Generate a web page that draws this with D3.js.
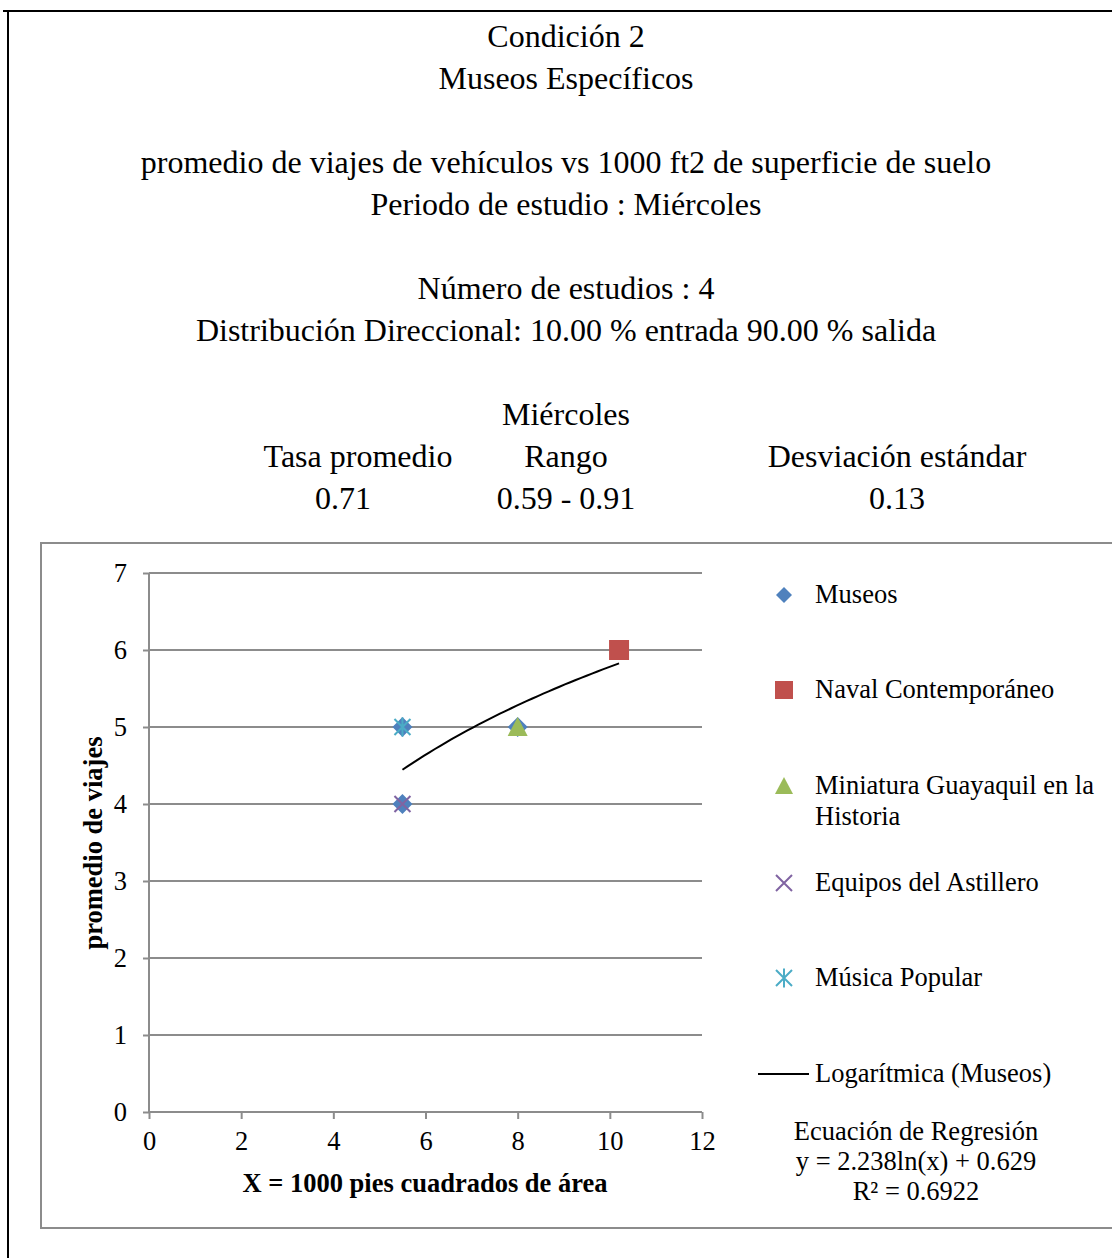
<!DOCTYPE html>
<html><head><meta charset="utf-8">
<script src="https://cdn.jsdelivr.net/npm/d3@7"></script>
<style>body{margin:0;background:#fff}svg{display:block}</style>
</head><body>
<script>
// ---- data ----
const titleLines = ["Condición 2","Museos Específicos","","promedio de viajes de vehículos vs 1000 ft2 de superficie de suelo","Periodo de estudio : Miércoles","","Número de estudios : 4","Distribución Direccional: 10.00 % entrada 90.00 % salida","","Miércoles"];
const statHeaders = ["Tasa promedio","Rango","Desviación estándar"];
const statValues = ["0.71","0.59 - 0.91","0.13"];
const seriesNames = ["Museos","Naval Contemporáneo","Miniatura Guayaquil en la Historia","Equipos del Astillero","Música Popular"];
const museosX = [5.5, 5.5, 8, 10.2];
const museosY = [5, 4, 5, 6];
const navalX = [10.2], navalY = [6];
const miniaturaX = [8], miniaturaY = [5];
const equiposX = [5.5], equiposY = [4];
const musicaX = [5.5], musicaY = [5];
const xTicks = [0,2,4,6,8,10,12];
const yTicks = [0,1,2,3,4,5,6,7];
const trendA = 2.238, trendB = 0.629;
const trendLabel = "Logarítmica (Museos)";
const eqLines = ["Ecuación de Regresión","y = 2.238ln(x) + 0.629","R² = 0.6922"];
const xLabel = "X = 1000 pies cuadrados de área";
const yLabel = "promedio de viajes";

const W = 1112, H = 1258;
const font = "'Liberation Serif','Times New Roman',serif";
const TF = 32, F = 26.5;
const svg = d3.select("body").append("svg").attr("width",W).attr("height",H);

// outer border
svg.append("line").attr("x1",3).attr("x2",W).attr("y1",11).attr("y2",11).attr("stroke","#000").attr("stroke-width",2);
svg.append("line").attr("x1",8).attr("x2",8).attr("y1",11).attr("y2",H).attr("stroke","#000").attr("stroke-width",2);

// titles
titleLines.forEach((t,i)=>{
  if(!t) return;
  svg.append("text").attr("x",566).attr("y",47+i*42).attr("text-anchor","middle")
    .attr("font-family",font).attr("font-size",TF).text(t);
});
const statX = [358,566,897];
statHeaders.forEach((t,i)=>{
  svg.append("text").attr("x",statX[i]).attr("y",467).attr("text-anchor","middle").attr("font-family",font).attr("font-size",TF).text(t);
});
const statVX = [343,566,897];
statValues.forEach((t,i)=>{
  svg.append("text").attr("x",statVX[i]).attr("y",509).attr("text-anchor","middle").attr("font-family",font).attr("font-size",TF).text(t);
});

// chart box
svg.append("rect").attr("x",41).attr("y",543).attr("width",W).attr("height",685).attr("fill","none").attr("stroke","#8c8c8c").attr("stroke-width",2);

const x = d3.scaleLinear().domain([0,12]).range([149,702]);
const y = d3.scaleLinear().domain([0,7]).range([1112,573]);

// gridlines
svg.append("g").selectAll("line").data(yTicks.filter(d=>d>0)).join("line")
  .attr("x1",x(0)).attr("x2",x(12)).attr("y1",d=>y(d)).attr("y2",d=>y(d))
  .attr("stroke","#8c8c8c").attr("stroke-width",2);

// axes
const yAxis = svg.append("g").attr("transform",`translate(${x(0)},0)`)
  .call(d3.axisLeft(y).tickValues(yTicks).tickSize(6).tickPadding(16).tickFormat(d3.format("d")));
const xAxis = svg.append("g").attr("transform",`translate(0,${y(0)})`)
  .call(d3.axisBottom(x).tickValues(xTicks).tickSize(7).tickPadding(12).tickFormat(d3.format("d")));
[yAxis,xAxis].forEach(g=>{
  g.select(".domain").attr("stroke","#8c8c8c").attr("stroke-width",2);
  g.selectAll(".tick line").attr("stroke","#8c8c8c").attr("stroke-width",2);
  g.selectAll("text").attr("font-family",font).attr("font-size",F).attr("fill","#000");
});
xAxis.select(".domain").attr("d",`M${x(0)},0H${x(12)}`);
yAxis.select(".domain").attr("d",`M0,${y(0)}V${y(7)}`);

// axis labels
svg.append("text").attr("x",425).attr("y",1192).attr("text-anchor","middle").attr("font-family",font)
  .attr("font-size",F).attr("font-weight","bold").text(xLabel);
svg.append("text").attr("transform","translate(102,843) rotate(-90)").attr("text-anchor","middle").attr("font-family",font)
  .attr("font-size",F).attr("font-weight","bold").text(yLabel);

// markers
const colors = ["#4F81BD","#C0504D","#9BBB59","#8064A2","#4BACC6"];
function drawMarker(g, type, cx, cy, s){
  if(type===0){
    g.append("path").attr("d",`M${cx},${cy-s}L${cx+s},${cy}L${cx},${cy+s}L${cx-s},${cy}Z`).attr("fill",colors[0]);
  } else if(type===1){
    g.append("rect").attr("x",cx-s).attr("y",cy-s).attr("width",2*s).attr("height",2*s).attr("fill",colors[1]);
  } else if(type===2){
    g.append("path").attr("d",`M${cx},${cy-s}L${cx+s},${cy+s*0.9}L${cx-s},${cy+s*0.9}Z`).attr("fill",colors[2]);
  } else if(type===3){
    g.append("path").attr("d",`M${cx-s},${cy-s}L${cx+s},${cy+s}M${cx+s},${cy-s}L${cx-s},${cy+s}`).attr("stroke",colors[3]).attr("stroke-width",2).attr("fill","none");
  } else {
    g.append("path").attr("d",`M${cx-s},${cy-s}L${cx+s},${cy+s}M${cx+s},${cy-s}L${cx-s},${cy+s}M${cx},${cy-s*1.2}L${cx},${cy+s*1.2}`).attr("stroke",colors[4]).attr("stroke-width",2).attr("fill","none");
  }
}
const plot = svg.append("g");
const seriesData = [[museosX,museosY],[navalX,navalY],[miniaturaX,miniaturaY],[equiposX,equiposY],[musicaX,musicaY]];
const plotSizes = [10,10,10,8,8];
seriesData.forEach(([xs,ys],k)=>{
  xs.forEach((xv,i)=>drawMarker(plot,k,x(xv),y(ys[i]),plotSizes[k]));
});

// trend line
const xmin = d3.min(museosX), xmax = d3.max(museosX);
const trendPts = d3.range(0,41).map(i=>{const xv = xmin+(xmax-xmin)*i/40; return [xv, trendA*Math.log(xv)+trendB];});
svg.append("path").datum(trendPts).attr("d",d3.line().x(d=>x(d[0])).y(d=>y(d[1])))
  .attr("fill","none").attr("stroke","#000").attr("stroke-width",2);

// legend
const legY = [595,690,786,883,978];
const legSizes = [8,9,9,8,8];
seriesNames.forEach((n,i)=>{
  drawMarker(svg,i,784,legY[i],legSizes[i]);
  const t = svg.append("text").attr("x",815).attr("y",legY[i]+8).attr("font-family",font).attr("font-size",F);
  if(i===2){
    t.append("tspan").attr("x",815).text("Miniatura Guayaquil en la");
    t.append("tspan").attr("x",815).attr("dy",31).text("Historia");
  } else t.text(n);
});
svg.append("line").attr("x1",758).attr("x2",809).attr("y1",1074).attr("y2",1074).attr("stroke","#000").attr("stroke-width",2);
svg.append("text").attr("x",815).attr("y",1082).attr("font-family",font).attr("font-size",F).text(trendLabel);
eqLines.forEach((t,i)=>{
  svg.append("text").attr("x",916).attr("y",1140+i*30).attr("text-anchor","middle").attr("font-family",font).attr("font-size",F).text(t);
});
</script>
</body></html>
